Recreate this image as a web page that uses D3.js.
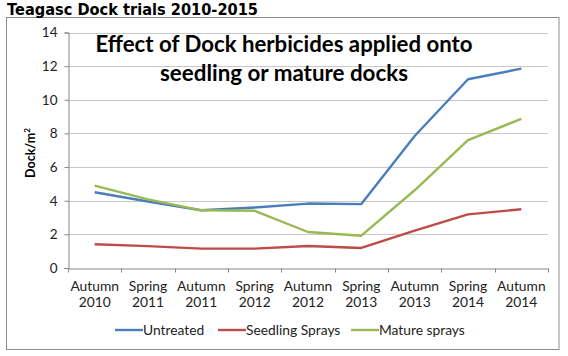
<!DOCTYPE html>
<html><head><meta charset="utf-8">
<script src="https://cdn.jsdelivr.net/npm/d3@7"></script>
<style>html,body{margin:0;padding:0;background:#fff;}</style>
</head><body>
<svg id="c" width="568" height="356"></svg>
<script>
const categories = [["Autumn","2010"],["Spring","2011"],["Autumn","2011"],["Spring","2012"],["Autumn","2012"],["Spring","2013"],["Autumn","2013"],["Spring","2014"],["Autumn","2014"]];
const untreated = [4.5, 3.95, 3.43, 3.6, 3.83, 3.8, 7.85, 11.22, 11.85];
const seedlingSprays = [1.41, 1.3, 1.15, 1.15, 1.31, 1.19, 2.22, 3.19, 3.49];
const matureSprays = [4.9, 4.08, 3.43, 3.4, 2.14, 1.92, 4.62, 7.6, 8.87];
const seriesNames = ["Untreated", "Seedling Sprays", "Mature sprays"];
const seriesColors = ["#4A7EBB", "#BE4B48", "#98B954"];
const yTicks = [0, 2, 4, 6, 8, 10, 12, 14];

const svg = d3.select("#c");
const font = "Lato, 'Open Sans', sans-serif";
const mLeft = 68, mRight = 548, mTop = 32.5, mBottom = 268;

// outer border
svg.append("rect").attr("x", 6.5).attr("y", 17.5).attr("width", 552.5).attr("height", 332)
  .attr("fill", "none").attr("stroke", "#8c8c8c").attr("stroke-width", 1);

// page title
svg.append("text").attr("x", 7).attr("y", 14.5)
  .attr("font-family", "'DejaVu Sans', Verdana, sans-serif").attr("font-weight", "bold")
  .attr("font-size", 15).attr("textLength", 251).attr("lengthAdjust", "spacingAndGlyphs")
  .attr("fill", "#000").text("Teagasc Dock trials 2010-2015");

const x = d3.scaleBand().domain(d3.range(categories.length)).range([mLeft, mRight]);
const y = d3.scaleLinear().domain([0, 14]).range([mBottom, mTop]);

// gridlines
svg.append("g").selectAll("line").data(yTicks.filter(d => d > 0)).join("line")
  .attr("x1", mLeft).attr("x2", mRight)
  .attr("y1", d => Math.round(y(d)) + 0.5).attr("y2", d => Math.round(y(d)) + 0.5)
  .attr("stroke", "#c8c8c8").attr("stroke-width", 1);

// y axis
const yAxis = svg.append("g").attr("transform", `translate(${mLeft + 0.5},0)`)
  .call(d3.axisLeft(y).tickValues(yTicks).tickSize(4).tickPadding(7));
yAxis.select(".domain").attr("stroke", "#868686");
yAxis.selectAll(".tick line").attr("stroke", "#868686");
yAxis.selectAll(".tick text").attr("font-family", font).attr("font-size", 13.5).attr("fill", "#222");

// x axis
const xAxis = svg.append("g").attr("transform", `translate(0,${mBottom + 0.5})`)
  .call(d3.axisBottom(x).tickSize(0).tickFormat(""));
xAxis.select(".domain").attr("stroke", "#868686");
xAxis.selectAll(".tick").remove();
const bounds = d3.range(categories.length + 1).map(i => mLeft + i * x.step());
xAxis.selectAll("line.tk").data(bounds).join("line").attr("class", "tk")
  .attr("x1", d => Math.round(d) + 0.5).attr("x2", d => Math.round(d) + 0.5)
  .attr("y1", 0).attr("y2", 4).attr("stroke", "#868686");
const lbl = svg.append("g").selectAll("text").data(categories).join("text")
  .attr("x", (d, i) => x(i) + x.bandwidth() / 2).attr("y", 290.5)
  .attr("text-anchor", "middle").attr("font-family", font).attr("font-size", 13.8).attr("fill", "#222");
lbl.append("tspan").attr("x", (d, i) => x(i) + x.bandwidth() / 2).attr("dy", 0).text(d => d[0]);
lbl.append("tspan").attr("x", (d, i) => x(i) + x.bandwidth() / 2).attr("dy", 16.5).text(d => d[1]);

// y title
const yt = svg.append("text").attr("transform", "translate(35,153) rotate(-90)")
  .attr("text-anchor", "middle").attr("font-family", font).attr("font-weight", "bold")
  .attr("font-size", 12.5).attr("fill", "#000");
yt.append("tspan").text("Dock/m");
yt.append("tspan").attr("font-size", 8).attr("dy", -5).text("2");

// lines
const series = [untreated, seedlingSprays, matureSprays];
const line = d3.line().x((d, i) => x(i) + x.bandwidth() / 2).y(d => y(d));
svg.append("g").selectAll("path").data(series).join("path")
  .attr("d", d => line(d)).attr("fill", "none")
  .attr("stroke", (d, i) => seriesColors[i]).attr("stroke-width", 2.4)
  .attr("stroke-linejoin", "round");

// chart title
const ct = svg.append("g").attr("font-family", font).attr("font-weight", "bold")
  .attr("font-size", 22).attr("fill", "#000").attr("text-anchor", "middle");
ct.append("text").attr("x", 284).attr("y", 52).attr("textLength", 377)
  .attr("lengthAdjust", "spacingAndGlyphs").text("Effect of Dock herbicides applied onto");
ct.append("text").attr("x", 284).attr("y", 81).attr("textLength", 248)
  .attr("lengthAdjust", "spacingAndGlyphs").text("seedling or mature docks");

// legend
const legX = [115, 218, 351];
const leg = svg.append("g").selectAll("g").data(seriesNames).join("g")
  .attr("transform", (d, i) => `translate(${legX[i]},330)`);
leg.append("line").attr("x1", 0).attr("x2", 28).attr("y1", 0).attr("y2", 0)
  .attr("stroke", (d, i) => seriesColors[i]).attr("stroke-width", 2.4);
leg.append("text").attr("x", 28).attr("y", 4.8).attr("font-family", font).attr("font-size", 13.8)
  .attr("fill", "#222").text(d => d);
</script>
</body></html>
